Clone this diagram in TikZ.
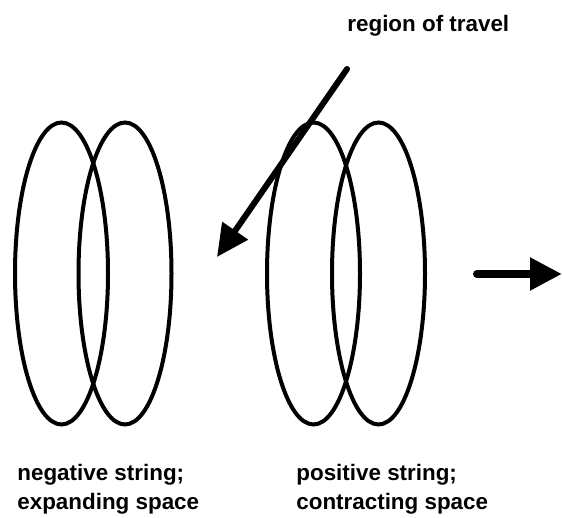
\documentclass[tikz,border=0pt]{standalone}
\usepackage{fontspec}
\setmainfont{Liberation Sans}
\usetikzlibrary{arrows.meta,positioning,shapes.geometric}

\begin{document}
\begin{tikzpicture}[
  x=0.5pt,y=0.5pt,
  font=\fontsize{11.2}{14.5}\selectfont\bfseries,
  ring/.style={draw,ellipse,line width=2pt,inner sep=0pt,minimum width=46.5pt,minimum height=151pt},
  lbl/.style={align=left,inner sep=0pt,anchor=base west},
  arr/.style={-{Triangle[length=16pt,width=15pt]},line width=3pt,line cap=round},
  harr/.style={-{Triangle[length=16pt,width=15.5pt]},line width=4pt,line cap=round}
]
\useasboundingbox (0,0) rectangle (562,518);

% negative string
\node[ring] (negA) at (61.5,244.5) {};
\node[ring] (negB) at (125,244.5) {};

% positive string
\node[ring] (posA) at (313.5,244.5) {};
\node[ring] (posB) at (378.5,244.5) {};

% labels
\node[lbl] (travel) at (347,486) {region of travel};
\node[lbl] (neg) at (17,8) {negative string;\\expanding space};
\node[lbl] (pos) at (296,8) {positive string;\\contracting space};

% arrows
\coordinate (travel start) at (347,449);
\coordinate (travel end) at (217,261);
\draw[arr] (travel start) -- (travel end);
\coordinate (move start) at (477,244);
\coordinate (move end) at (562,244);
\draw[harr] (move start) -- (move end);
\end{tikzpicture}
\end{document}
